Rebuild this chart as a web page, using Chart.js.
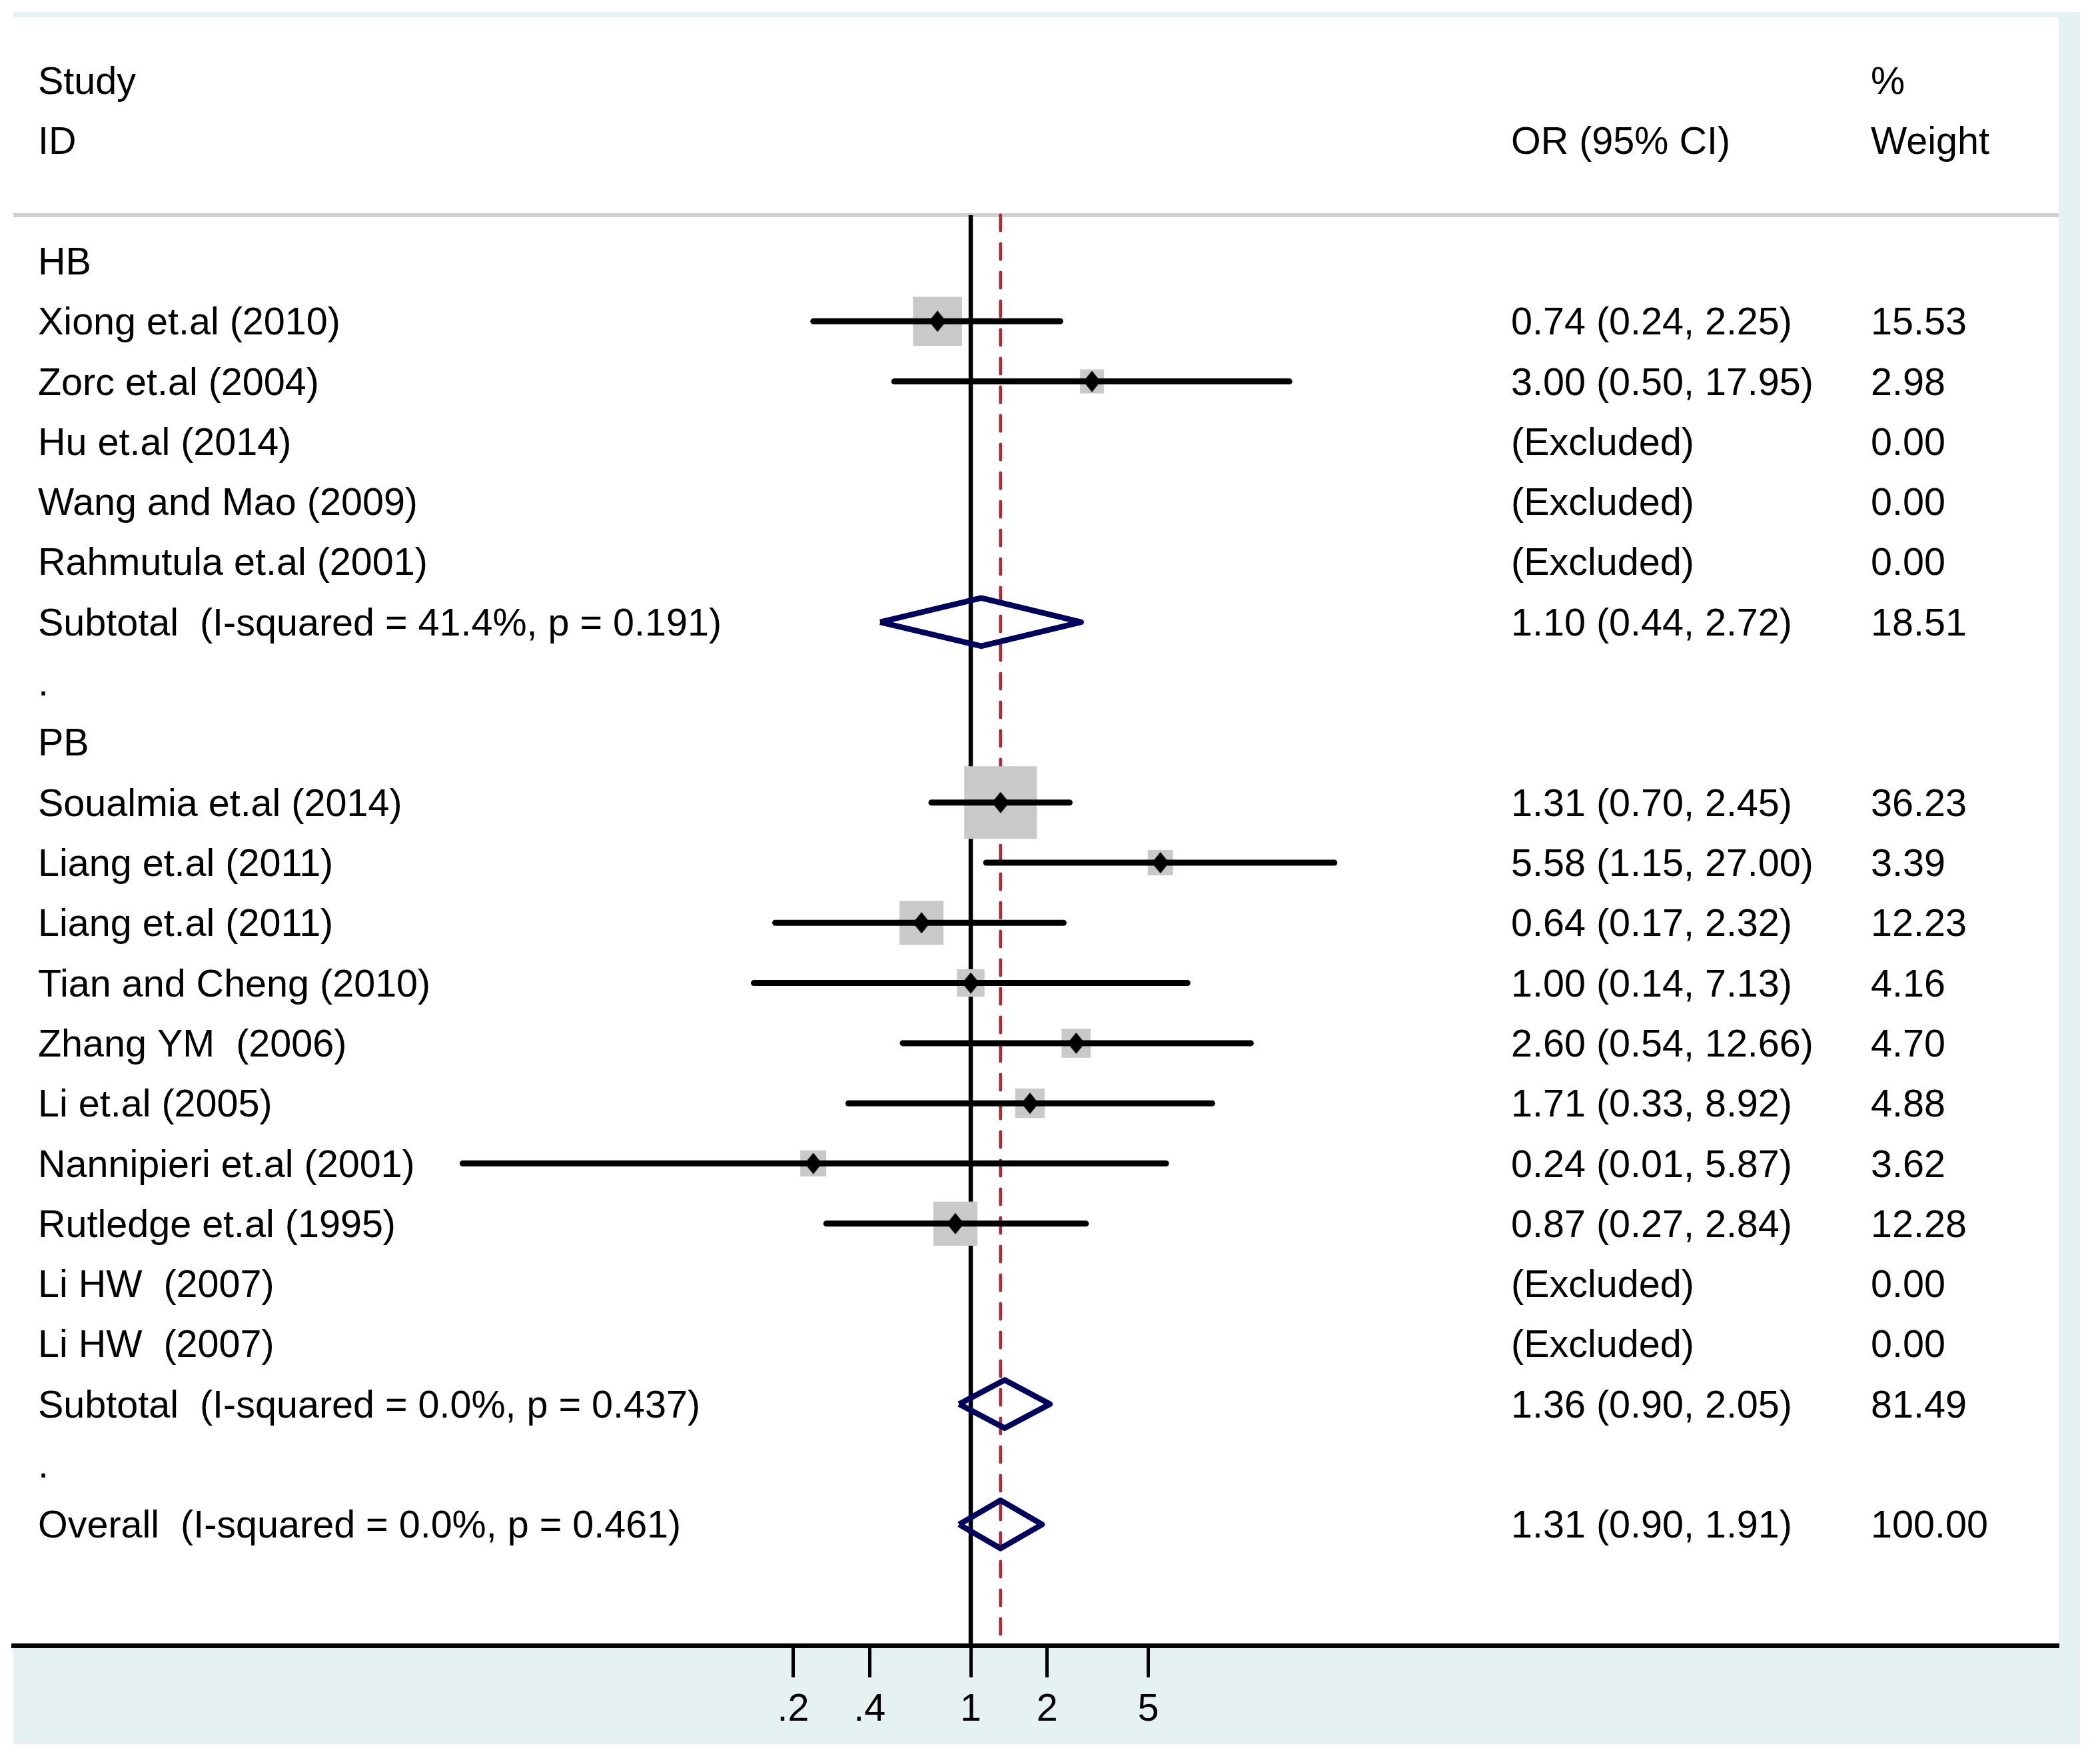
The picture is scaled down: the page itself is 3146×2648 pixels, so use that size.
<!DOCTYPE html>
<html>
<head>
<meta charset="utf-8">
<script src="https://cdn.jsdelivr.net/npm/chart.js@4.4.1/dist/chart.umd.min.js"></script>
<style>
  html, body { margin: 0; padding: 0; background: #fff; }
  canvas { display: block; }
</style>
</head>
<body>
<canvas id="forest" width="3146" height="2648"></canvas>
<script>
// one entry per row, top to bottom
const rowLabels = [
  "HB",
  "Xiong et.al (2010)",
  "Zorc et.al (2004)",
  "Hu et.al (2014)",
  "Wang and Mao (2009)",
  "Rahmutula et.al (2001)",
  "Subtotal  (I-squared = 41.4%, p = 0.191)",
  ".",
  "PB",
  "Soualmia et.al (2014)",
  "Liang et.al (2011)",
  "Liang et.al (2011)",
  "Tian and Cheng (2010)",
  "Zhang YM  (2006)",
  "Li et.al (2005)",
  "Nannipieri et.al (2001)",
  "Rutledge et.al (1995)",
  "Li HW  (2007)",
  "Li HW  (2007)",
  "Subtotal  (I-squared = 0.0%, p = 0.437)",
  ".",
  "Overall  (I-squared = 0.0%, p = 0.461)"
];
const rowKind = [
  "group", "study", "study", "excluded", "excluded", "excluded", "pooled", "gap",
  "group", "study", "study", "study", "study", "study", "study", "study", "study",
  "excluded", "excluded", "pooled", "gap", "pooled"
];
const oddsRatio = [null, 0.74, 3.00, null, null, null, 1.10, null,
  null, 1.31, 5.58, 0.64, 1.00, 2.60, 1.71, 0.24, 0.87, null, null, 1.36, null, 1.31];
const ciLow = [null, 0.24, 0.50, null, null, null, 0.44, null,
  null, 0.70, 1.15, 0.17, 0.14, 0.54, 0.33, 0.01, 0.27, null, null, 0.90, null, 0.90];
const ciHigh = [null, 2.25, 17.95, null, null, null, 2.72, null,
  null, 2.45, 27.00, 2.32, 7.13, 12.66, 8.92, 5.87, 2.84, null, null, 2.05, null, 1.91];
const weights = [null, 15.53, 2.98, 0, 0, 0, 18.51, null,
  null, 36.23, 3.39, 12.23, 4.16, 4.70, 4.88, 3.62, 12.28, 0, 0, 81.49, null, 100.00];

const tickValues = [0.2, 0.4, 1, 2, 5];
const tickLabels = [".2", ".4", "1", "2", "5"];

// layout
const FONT = '57.5px "Liberation Sans", Arial, sans-serif';
const Y_TOP = -4.053, Y_BOTTOM = 23.012;
const RULE_ROW = -0.764;
const COL_LABEL = 57, COL_OR = 2268, COL_WEIGHT = 2808;
const overall = oddsRatio[rowKind.lastIndexOf("pooled")];

function fmt(v) { return v.toFixed(2); }

// small black diamond, a bit taller than wide
const diamond = document.createElement("canvas");
diamond.width = 26;
diamond.height = 32;
(function () {
  const c = diamond.getContext("2d");
  c.fillStyle = "#000";
  c.beginPath();
  c.moveTo(0, 16); c.lineTo(13, 0); c.lineTo(26, 16); c.lineTo(13, 32);
  c.closePath();
  c.fill();
})();

const datasets = [];

// null line and overall estimate line
datasets.push({
  type: "line",
  data: [{x: 1, y: RULE_ROW}, {x: 1, y: Y_BOTTOM}],
  borderColor: "#000", borderWidth: 6.5, pointRadius: 0, order: 9
});
datasets.push({
  type: "line",
  data: [{x: overall, y: RULE_ROW}, {x: overall, y: Y_BOTTOM}],
  borderColor: "#a6303a", borderWidth: 5, borderDash: [23, 20],
  borderCapStyle: "round", pointRadius: 0, order: 8
});

// weight squares
const squares = [], squareRadius = [], points = [];
rowKind.forEach((kind, i) => {
  if (kind !== "study") return;
  squares.push({x: oddsRatio[i], y: i});
  squareRadius.push((6.7 + 17 * Math.sqrt(weights[i])) / Math.SQRT2);
  points.push({x: oddsRatio[i], y: i});
});
datasets.push({
  type: "scatter", data: squares, pointStyle: "rect",
  pointRadius: squareRadius, backgroundColor: "#c9c9c9", borderWidth: 0, order: 7
});

// confidence intervals
rowKind.forEach((kind, i) => {
  if (kind !== "study") return;
  datasets.push({
    type: "line",
    data: [{x: ciLow[i], y: i}, {x: ciHigh[i], y: i}],
    borderColor: "#000", borderWidth: 9, borderCapStyle: "round",
    pointRadius: 0, order: 5
  });
});

// pooled diamonds
rowKind.forEach((kind, i) => {
  if (kind !== "pooled") return;
  datasets.push({
    type: "line",
    data: [
      {x: ciLow[i], y: i}, {x: oddsRatio[i], y: i - 0.4},
      {x: ciHigh[i], y: i}, {x: oddsRatio[i], y: i + 0.4}, {x: ciLow[i], y: i}
    ],
    borderColor: "#00005e", borderWidth: 8.5, borderJoinStyle: "round",
    fill: false, tension: 0, pointRadius: 0, order: 3
  });
});

// point estimates
datasets.push({
  type: "scatter", data: points, pointStyle: diamond,
  pointRadius: 15, order: 1
});

const backdrop = {
  id: "backdrop",
  beforeDraw(chart) {
    const {ctx, chartArea: a} = chart;
    ctx.save();
    ctx.fillStyle = "#fff";
    ctx.fillRect(0, 0, chart.width, chart.height);
    ctx.fillStyle = "#e6f2f2";
    ctx.fillRect(20, 18, 3102, 2600);
    ctx.fillStyle = "#fff";
    ctx.fillRect(a.left, a.top, a.right - a.left, a.bottom - a.top);
    ctx.restore();
  },
  beforeDatasetsDraw(chart) {
    const {ctx, chartArea: a} = chart;
    const y = chart.scales.y.getPixelForValue(RULE_ROW);
    ctx.save();
    ctx.fillStyle = "#d0d0d0";
    ctx.fillRect(a.left, y - 3, a.right - a.left, 6);
    ctx.restore();
  }
};

const columns = {
  id: "columns",
  afterDraw(chart) {
    const {ctx} = chart;
    const ys = chart.scales.y;
    ctx.save();
    ctx.font = FONT;
    ctx.fillStyle = "#000";
    ctx.textBaseline = "alphabetic";
    ctx.textAlign = "left";
    // cap height centred on the row
    const put = (t, x, row) => ctx.fillText(t, x, ys.getPixelForValue(row) + 20);
    put("Study", COL_LABEL, -3);
    put("ID", COL_LABEL, -2);
    put("OR (95% CI)", COL_OR, -2);
    put("%", COL_WEIGHT, -3);
    put("Weight", COL_WEIGHT, -2);
    rowLabels.forEach((label, i) => {
      put(label, COL_LABEL, i);
      const kind = rowKind[i];
      if (kind === "study" || kind === "pooled") {
        put(fmt(oddsRatio[i]) + " (" + fmt(ciLow[i]) + ", " + fmt(ciHigh[i]) + ")", COL_OR, i);
        put(fmt(weights[i]), COL_WEIGHT, i);
      } else if (kind === "excluded") {
        put("(Excluded)", COL_OR, i);
        put(fmt(weights[i]), COL_WEIGHT, i);
      }
    });
    ctx.restore();
  }
};

new Chart(document.getElementById("forest"), {
  type: "line",
  data: {datasets},
  plugins: [backdrop, columns],
  options: {
    responsive: false,
    devicePixelRatio: 1,
    animation: false,
    events: [],
    layout: {autoPadding: false, padding: {left: 20, right: 56, top: 26, bottom: 0}},
    plugins: {legend: {display: false}, tooltip: {enabled: false}},
    scales: {
      x: {
        type: "logarithmic",
        bounds: "data",
        min: 1.703e-4,
        max: 19170,
        afterBuildTicks(scale) {
          scale.ticks = tickValues.map(v => ({value: v}));
        },
        afterFit(scale) { scale.height = 178; },
        ticks: {
          autoSkip: false, maxRotation: 0, padding: 15,
          color: "#000",
          font: {family: '"Liberation Sans", Arial, sans-serif', size: 57.5},
          callback: (v, i) => tickLabels[i]
        },
        grid: {drawOnChartArea: false, tickLength: 48, tickWidth: 5, tickColor: "#000"},
        border: {display: true, width: 7, color: "#000"}
      },
      y: {
        type: "linear",
        reverse: true,
        min: Y_TOP,
        max: Y_BOTTOM,
        display: false
      }
    }
  }
});
</script>
</body>
</html>
